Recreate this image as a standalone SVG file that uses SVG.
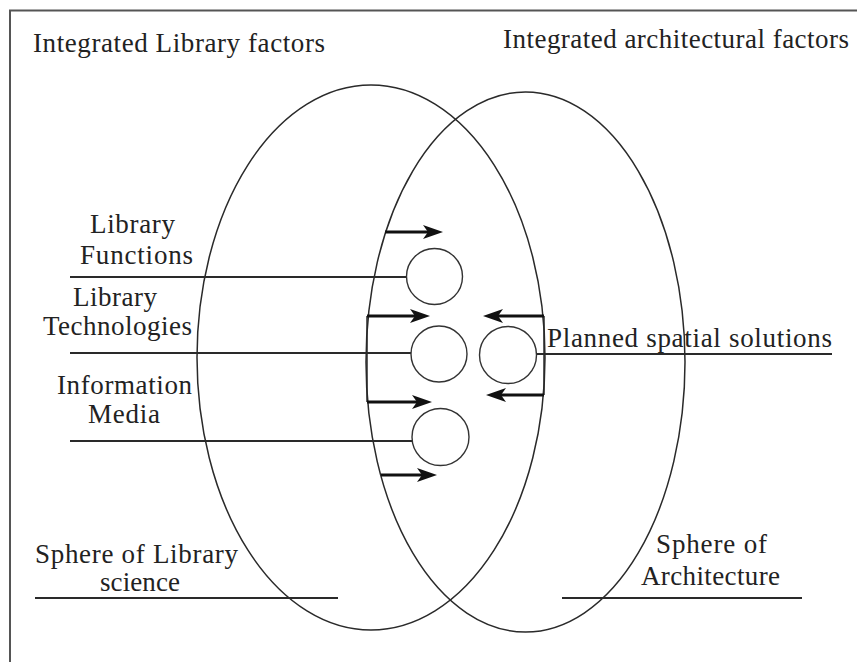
<svg xmlns="http://www.w3.org/2000/svg" width="857" height="662" viewBox="0 0 857 662">
<style>
  .t { font-family: "Liberation Serif", "DejaVu Serif", "Times New Roman", serif; font-size: 27px; fill: #222; }
  .ell { fill: none; stroke: #2a2a2a; stroke-width: 1.5; }
  .cir { fill: #fff; stroke: #333; stroke-width: 1.4; }
  .ln { fill: none; stroke: #2a2a2a; stroke-width: 2; }
  .thin { fill: none; stroke: #2a2a2a; stroke-width: 1.5; }
  .arr { fill: none; stroke: #111; stroke-width: 3.2; marker-end: url(#ah); }
</style>
<defs>
  <marker id="ah" markerUnits="userSpaceOnUse" markerWidth="20" markerHeight="14" viewBox="0 0 20 14" refX="9" refY="7" orient="auto">
    <path d="M0,0 L20,7 L0,14 L5,7 z" fill="#111"/>
  </marker>
</defs>
<rect x="0" y="0" width="857" height="662" fill="#fff"/>
<g id="frame">
  <path d="M10,662 L10,10.5 L857,10.5" fill="none" stroke="#555" stroke-width="2"/>
</g>
<g id="headings">
  <text class="t" x="33" y="52" textLength="292">Integrated Library factors</text>
  <text class="t" x="503" y="48" textLength="346">Integrated architectural factors</text>
</g>
<g id="sphere-library">
  <ellipse class="ell" cx="371" cy="357.5" rx="174" ry="272.5"/>
  <text class="t" x="35" y="563" textLength="203">Sphere of Library</text>
  <text class="t" x="100" y="591" textLength="80">science</text>
  <line class="ln" x1="35" y1="598" x2="338" y2="598"/>
</g>
<g id="sphere-architecture">
  <ellipse class="ell" cx="525.5" cy="362" rx="159.5" ry="270"/>
  <text class="t" x="656" y="553" textLength="111">Sphere of</text>
  <text class="t" x="641" y="585" textLength="139">Architecture</text>
  <line class="ln" x1="562" y1="598" x2="802" y2="598"/>
</g>
<g id="library-functions">
  <text class="t" x="90" y="233" textLength="85">Library</text>
  <text class="t" x="80" y="264" textLength="113">Functions</text>
  <line class="ln" x1="70" y1="277" x2="406.5" y2="277"/>
  <circle class="cir" cx="434.5" cy="276.5" r="28"/>
</g>
<g id="library-technologies">
  <text class="t" x="73" y="306" textLength="84">Library</text>
  <text class="t" x="43" y="335" textLength="149">Technologies</text>
  <line class="ln" x1="70" y1="353" x2="411" y2="353"/>
  <circle class="cir" cx="439" cy="354" r="28"/>
</g>
<g id="information-media">
  <text class="t" x="57" y="394" textLength="135">Information</text>
  <text class="t" x="88" y="423" textLength="72">Media</text>
  <line class="ln" x1="70" y1="441" x2="412.5" y2="441"/>
  <circle class="cir" cx="440.5" cy="437" r="28.5"/>
</g>
<g id="planned-spatial-solutions">
  <line class="ln" x1="537" y1="354" x2="832" y2="354"/>
  <circle class="cir" cx="508" cy="355" r="28.5"/>
  <text class="t" x="547" y="347" textLength="285">Planned spatial solutions</text>
</g>
<g id="connectors">
  <line class="thin" x1="367" y1="316" x2="367" y2="402"/>
  <line class="thin" x1="544" y1="316" x2="544" y2="395"/>
  <line class="arr" x1="385" y1="232" x2="432" y2="232"/>
  <line class="arr" x1="367" y1="316" x2="419" y2="316"/>
  <line class="arr" x1="367" y1="402" x2="421" y2="402"/>
  <line class="arr" x1="381" y1="475" x2="426" y2="475"/>
  <line class="arr" x1="544" y1="316" x2="494" y2="316"/>
  <line class="arr" x1="544" y1="395" x2="497" y2="395"/>
</g>
</svg>
